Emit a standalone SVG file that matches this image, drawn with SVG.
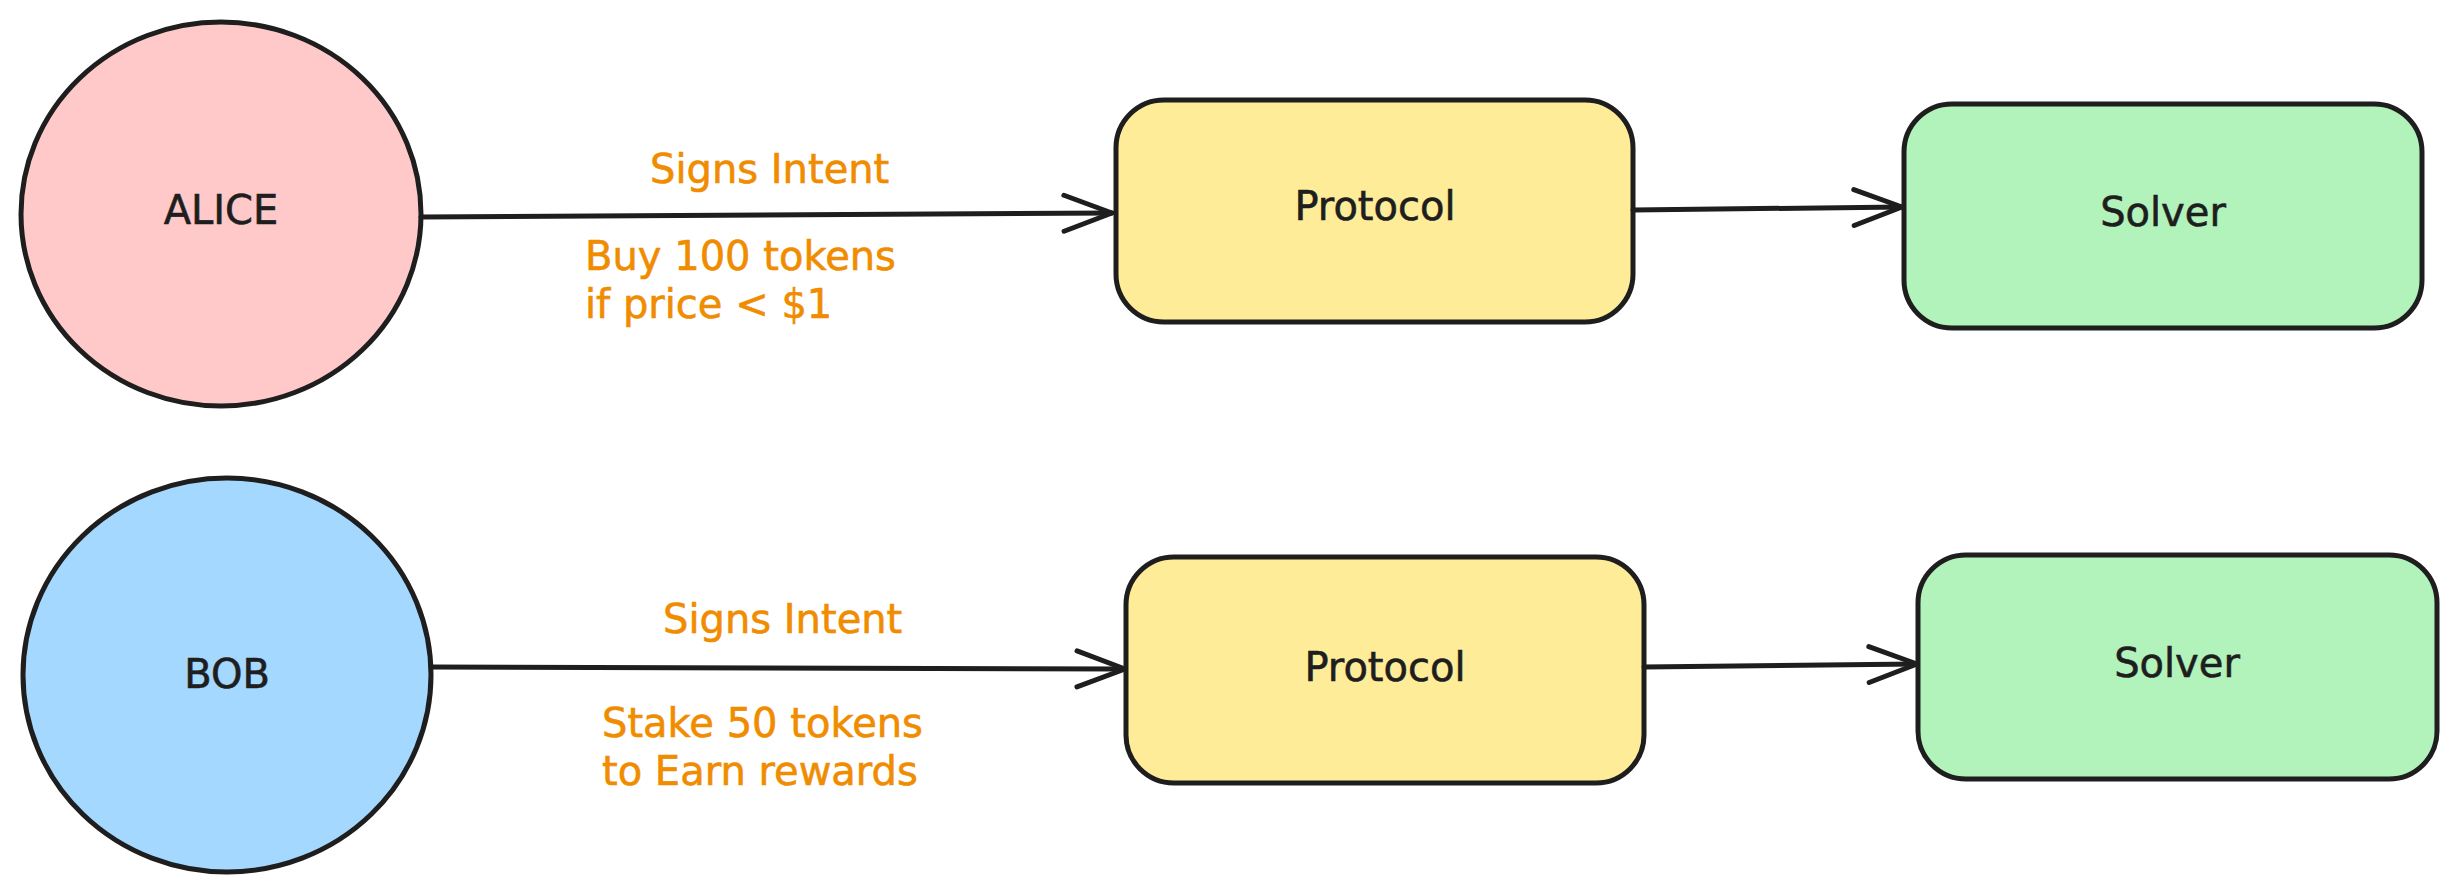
<svg xmlns="http://www.w3.org/2000/svg" width="2456" height="889" viewBox="0 0 2456 889">
  <style>
    .outline { stroke: #1e1e1e; stroke-width: 5; stroke-linejoin: round; }
    .node-text { font-family: "DejaVu Sans", "Liberation Sans", sans-serif; font-size: 40px; fill: #1e1e1e; text-anchor: middle; stroke: #1e1e1e; stroke-width: 0.6; }
    .label { font-family: "DejaVu Sans", "Liberation Sans", sans-serif; font-size: 40px; fill: #f08c00; stroke: #f08c00; stroke-width: 0.6; }
    .conn { fill: none; stroke: #1e1e1e; stroke-width: 5; stroke-linecap: round; }
  </style>
  <defs>
    <marker id="arrow" markerUnits="userSpaceOnUse" markerWidth="60" markerHeight="44" refX="0" refY="0" viewBox="-54 -22 60 44" orient="auto" overflow="visible">
      <path d="M-48,-18 L0,0 L-48,18" fill="none" stroke="#1e1e1e" stroke-width="5" stroke-linecap="round" stroke-linejoin="round"/>
    </marker>
  </defs>
  <rect width="2456" height="889" fill="#ffffff"/>

  <g id="alice">
    <ellipse class="outline" cx="221" cy="214" rx="200" ry="192" fill="#ffc9c9"/>
    <text class="node-text" x="221" y="224">ALICE</text>
  </g>
  <g id="bob">
    <ellipse class="outline" cx="227" cy="675" rx="204" ry="197" fill="#a5d8ff"/>
    <text class="node-text" x="227" y="688">BOB</text>
  </g>
  <g id="protocol-top">
    <rect class="outline" x="1116" y="100" width="517" height="222" rx="48" ry="48" fill="#ffec99"/>
    <text class="node-text" x="1375" y="220">Protocol</text>
  </g>
  <g id="solver-top">
    <rect class="outline" x="1904" y="104" width="518" height="224" rx="48" ry="48" fill="#b2f2bb"/>
    <text class="node-text" x="2163" y="226">Solver</text>
  </g>
  <g id="protocol-bottom">
    <rect class="outline" x="1126" y="557" width="518" height="226" rx="48" ry="48" fill="#ffec99"/>
    <text class="node-text" x="1385" y="681">Protocol</text>
  </g>
  <g id="solver-bottom">
    <rect class="outline" x="1918" y="555" width="519" height="224" rx="48" ry="48" fill="#b2f2bb"/>
    <text class="node-text" x="2177" y="677">Solver</text>
  </g>

  <g id="connectors">
    <path class="conn" d="M421,217 L1112,213" marker-end="url(#arrow)"/>
    <path class="conn" d="M431,667 L1125,669" marker-end="url(#arrow)"/>
    <path class="conn" d="M1633,210 L1902,207" marker-end="url(#arrow)"/>
    <path class="conn" d="M1644,667 L1917,664" marker-end="url(#arrow)"/>
  </g>

  <g id="labels">
    <text class="label" x="650" y="183">Signs Intent</text>
    <text class="label" x="585" y="270">Buy 100 tokens</text>
    <text class="label" x="585" y="318">if price &lt; $1</text>
    <text class="label" x="663" y="633">Signs Intent</text>
    <text class="label" x="602" y="737">Stake 50 tokens</text>
    <text class="label" x="602" y="785">to Earn rewards</text>
  </g>
</svg>
